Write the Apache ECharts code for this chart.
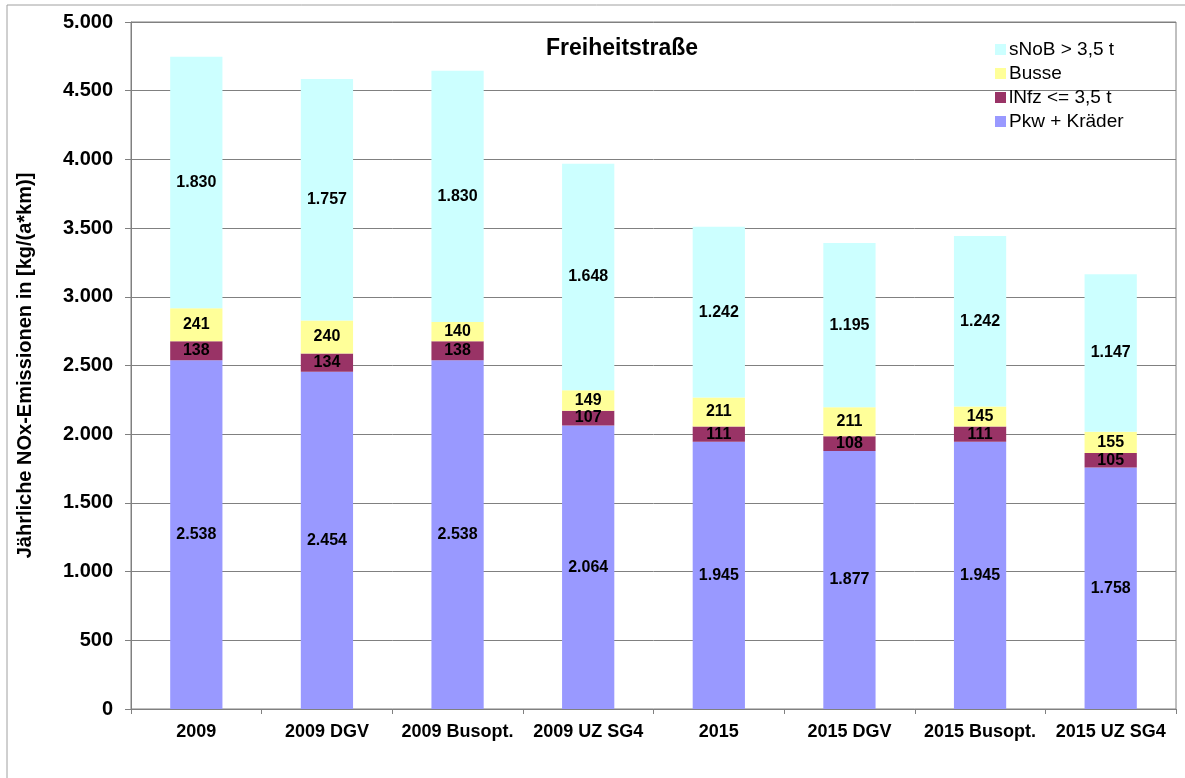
<!DOCTYPE html>
<html><head><meta charset="utf-8">
<script src="https://cdn.jsdelivr.net/npm/echarts@6/dist/echarts.min.js"></script>
<style>html,body{margin:0;padding:0;background:#fff}#c{width:1185px;height:778px}</style>
</head><body><div id="c"></div>
<script>
const categories = ['2009','2009 DGV','2009 Busopt.','2009 UZ SG4','2015','2015 DGV','2015 Busopt.','2015 UZ SG4'];
const pkw = [2538,2454,2538,2064,1945,1877,1945,1758];
const lnfz = [138,134,138,107,111,108,111,105];
const busse = [241,240,140,149,211,211,145,155];
const snob = [1830,1757,1830,1648,1242,1195,1242,1147];
const yTicks = [0,500,1000,1500,2000,2500,3000,3500,4000,4500,5000];

const fmt = v => v.toLocaleString('de-DE');
const font = '"Liberation Sans", Arial, sans-serif';
const lbl = {show:true, position:'inside', color:'#000', fontWeight:'bold', fontSize:16, fontFamily:font, formatter:p=>fmt(p.value)};
function s(name, data, color){
  return {name, type:'bar', stack:'a', data, barWidth:'40%', itemStyle:{color}, label:lbl, emphasis:{disabled:true}};
}
const chart = echarts.init(document.getElementById('c'));
chart.setOption({
  animation:false,
  title:{text:'Freiheitstraße', left:541, top:32, textStyle:{fontSize:23, fontWeight:'bold', color:'#000', fontFamily:font}},
  legend:{show:true, orient:'vertical', left:990, top:35, itemWidth:11, itemHeight:11, itemGap:5, icon:'rect',
    textStyle:{fontSize:19, color:'#000', fontFamily:font, padding:[0,0,0,-2]},
    data:['sNoB > 3,5 t','Busse','lNfz <= 3,5 t','Pkw + Kräder']},
  graphic:[{type:'rect', shape:{x:7,y:5,width:1200,height:800}, style:{fill:'none', stroke:'#a0a0a0', lineWidth:1}, z:-10}],
  grid:{left:131, right:9, top:22, bottom:69, show:true, borderColor:'#808080', borderWidth:1},
  xAxis:{type:'category', data:categories,
    axisLine:{lineStyle:{color:'#808080'}}, axisTick:{show:true, length:5, lineStyle:{color:'#808080'}},
    axisLabel:{interval:0, color:'#000', fontWeight:'bold', fontSize:18, fontFamily:font, margin:14}},
  yAxis:{type:'value', min:0, max:5000, interval:500,
    name:'Jährliche NOx-Emissionen in [kg/(a*km)]', nameLocation:'middle', nameGap:96,
    nameTextStyle:{fontSize:20, fontWeight:'bold', color:'#000', fontFamily:font},
    axisLine:{show:true, lineStyle:{color:'#808080'}}, axisTick:{show:true, inside:false, length:6, lineStyle:{color:'#808080'}},
    axisLabel:{color:'#000', fontWeight:'bold', fontSize:20, fontFamily:font, margin:18, formatter:v=>yTicks.includes(v)?fmt(v):''},
    splitLine:{lineStyle:{color:'#808080'}}},
  series:[s('Pkw + Kräder', pkw, '#9999FF'), s('lNfz <= 3,5 t', lnfz, '#993366'), s('Busse', busse, '#FFFF99'), s('sNoB > 3,5 t', snob, '#CCFFFF')]
});
</script></body></html>
